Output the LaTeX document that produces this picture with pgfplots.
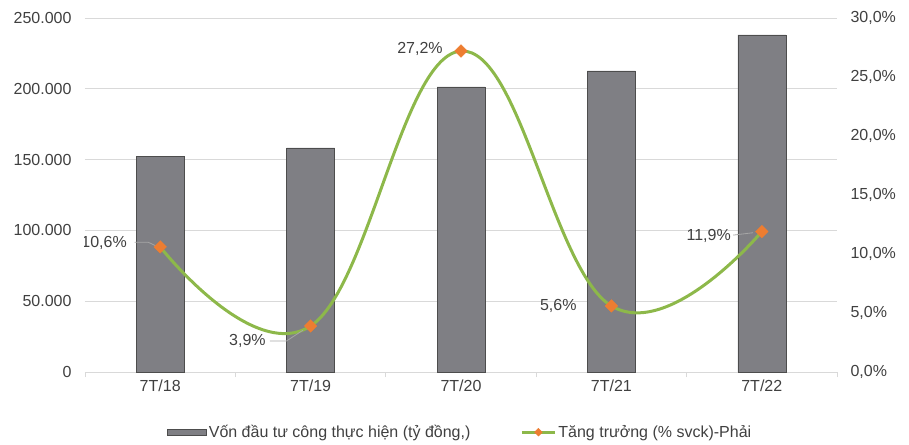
\documentclass[border=0pt]{standalone}
\usepackage{pgfplots}
\pgfplotsset{compat=1.18}
\usepackage{fontspec}
\setmainfont{Liberation Sans}
\definecolor{txt}{HTML}{404040}
\definecolor{barfill}{HTML}{7F7F84}
\definecolor{baredge}{HTML}{4D4D4D}
\definecolor{lgreen}{HTML}{8DB84A}
\definecolor{morange}{HTML}{ED7D31}
\definecolor{gridc}{HTML}{D9D9D9}
\definecolor{leader}{HTML}{A6A6A6}
\pgfplotsset{
  barlegend/.style={legend image code/.code={\draw[fill=barfill, draw=baredge, line width=0.6pt] (0pt,-3pt) rectangle (39pt,3pt);}},
  linelegend/.style={legend image code/.code={%
    \draw[lgreen, line width=3pt] (0pt,0pt) -- (33pt,0pt);
    \fill[morange, rotate around={45:(16.5pt,0pt)}] (13.7pt,-2.8pt) rectangle (19.3pt,2.8pt);}},
}
\begin{document}
\begin{tikzpicture}[font=\fontsize{16}{19}\selectfont]
\begin{axis}[
  at={(0,0)}, anchor=south west,
  scale only axis, width=752pt, height=354pt,
  xmin=-0.5, xmax=4.5, ymin=0, ymax=250000,
  xtick={0,1,2,3,4},
  xticklabels={7T/18,7T/19,7T/20,7T/21,7T/22},
  major x tick style={draw=none},
  minor xtick={-0.5,0.5,1.5,2.5,3.5,4.5},
  minor x tick style={gridc, line width=0.8pt},
  xtick align=outside, minor tick length=5pt,
  axis x line*=bottom, axis y line*=left,
  x axis line style={gridc, line width=0.8pt, -},
  y axis line style={draw=none},
  ytick style={draw=none},
  ymajorgrids, grid style={gridc, line width=0.8pt},
  ytick={0,50000,100000,150000,200000,250000},
  yticklabels={0,50.000,100.000,150.000,200.000,250.000},
  yticklabel style={xshift=-10pt},
  scaled y ticks=false,
  ticklabel style={text=txt},
  ybar, bar width=48pt,
  legend style={at={(0.499,-0.17)}, anchor=center, draw=none, fill=none,
    legend columns=2, text=txt, font=\fontsize{16}{19}\selectfont,
    /tikz/every even column/.append style={column sep=48pt}},
]
\addplot[fill=barfill, draw=baredge, line width=0.6pt, barlegend]
  coordinates {(0,152500) (1,158200) (2,201300) (3,212600) (4,238000)};
\addlegendentry{Vốn đầu tư công thực hiện (tỷ đồng,)}
\addlegendimage{linelegend}
\addlegendentry{Tăng trưởng (\% svck)-Phải}
\end{axis}
\begin{axis}[
  at={(0,0)}, anchor=south west,
  scale only axis, width=752pt, height=354pt,
  xmin=-0.5, xmax=4.5, ymin=0, ymax=30,
  axis x line=none, axis y line*=right,
  y axis line style={draw=none},
  ytick style={draw=none},
  ytick={0,5,10,15,20,25,30},
  yticklabels={{0,0\%},{5,0\%},{10,0\%},{15,0\%},{20,0\%},{25,0\%},{30,0\%}},
  yticklabel style={xshift=10pt},
  ticklabel style={text=txt},
]
\addplot[lgreen, line width=3pt, smooth, tension=0.7, mark=square*, mark size=4.5pt,
  mark options={fill=morange, draw=morange, line width=0.3pt, rotate=45}]
  coordinates {(0,10.6) (1,3.9) (2,27.2) (3,5.6) (4,11.9)};
\draw[leader, line width=0.8pt] (axis cs:-0.17,11.0) -- (axis cs:-0.08,11.0) -- (axis cs:-0.03,10.7);
\draw[leader, line width=0.8pt] (axis cs:0.73,2.63) -- (axis cs:0.84,2.63) -- (axis cs:0.95,3.55);
\draw[leader, line width=0.8pt] (axis cs:3.81,11.6) -- (axis cs:3.94,11.8);
\node[text=txt] at (axis cs:-0.373,10.93) {10,6\%};
\node[text=txt] at (axis cs:0.58,2.63) {3,9\%};
\node[text=txt] at (axis cs:1.727,27.37) {27,2\%};
\node[text=txt] at (axis cs:2.647,5.59) {5,6\%};
\node[text=txt] at (axis cs:3.647,11.53) {11,9\%};
\end{axis}
\pgfresetboundingbox
\path (-85pt,-72pt) rectangle (824pt,372pt);
\end{tikzpicture}
\end{document}
